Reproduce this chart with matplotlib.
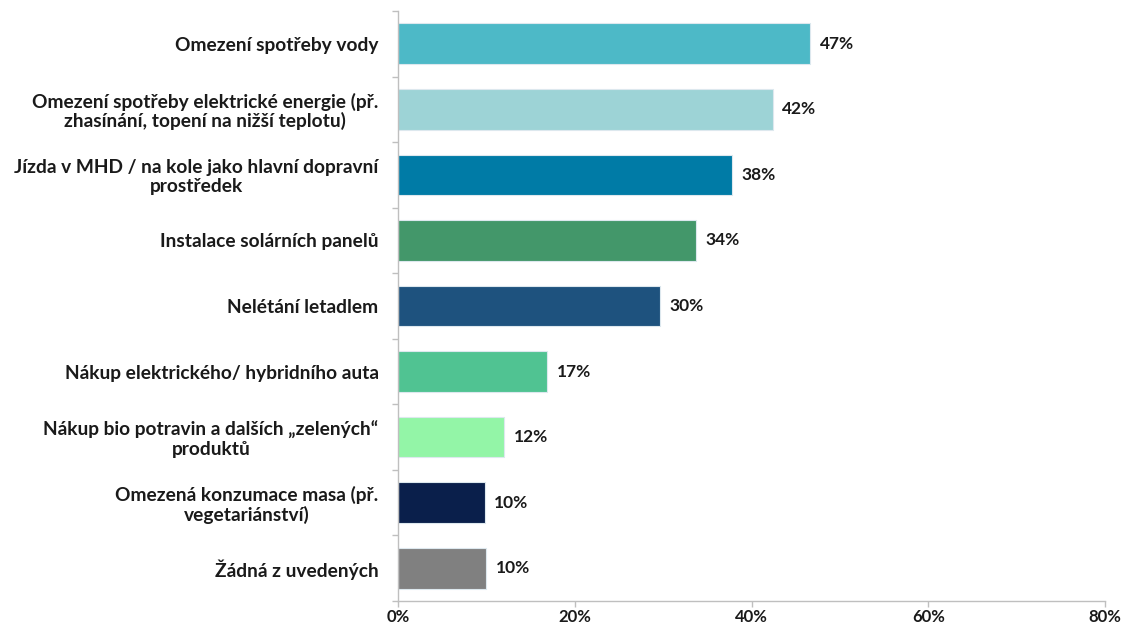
import matplotlib
matplotlib.use("Agg")
import matplotlib.pyplot as plt
from matplotlib.ticker import FixedLocator

categories = [
    "Omezení spotřeby vody",
    "Omezení spotřeby elektrické energie (př.\nzhasínání, topení na nižší teplotu)",
    "Jízda v MHD / na kole jako hlavní dopravní\nprostředek",
    "Instalace solárních panelů",
    "Nelétání letadlem",
    "Nákup elektrického/ hybridního auta",
    "Nákup bio potravin a dalších „zelených“\nproduktů",
    "Omezená konzumace masa (př.\nvegetariánství)",
    "Žádná z uvedených",
]
values = [46.6, 42.4, 37.8, 33.7, 29.6, 16.9, 12.0, 9.8, 10.0]
value_labels = ["47%", "42%", "38%", "34%", "30%", "17%", "12%", "10%", "10%"]
colors = ["#4DB9C7", "#9DD3D6", "#007BA6", "#43976A", "#1E527E",
          "#50C392", "#93F5A7", "#0A1F4B", "#808080"]
x_ticks = [0, 20, 40, 60, 80]
x_tick_labels = ["0%", "20%", "40%", "60%", "80%"]

plt.rcParams['font.family'] = ['Lato', 'DejaVu Sans']

fig = plt.figure(figsize=(11.21, 6.29), dpi=100)
W, H = 1121, 629
ax = fig.add_axes([398 / W, 1 - 601 / H, (1105 - 398) / W, (601 - 11) / H])

y = list(range(len(categories)))
ax.barh(y, values, height=0.62, color=colors, edgecolor="#DDE8EE", linewidth=0.8)

for yi, v, lab in zip(y, values, value_labels):
    ax.text(v + 1.1, yi, lab, va="center", ha="left", fontsize=12.5,
            fontweight="bold", color="#1a1a1a")

ax.set_xlim(0, 80)
ax.set_ylim(len(categories) - 0.5, -0.5)

ax.set_yticks(y)
ax.set_yticklabels(categories, fontsize=13.8, fontweight="bold", color="#1a1a1a",
                   ha="right", multialignment="center", linespacing=1.1)
ax.tick_params(axis="y", which="major", length=0, pad=14)
ax.yaxis.set_minor_locator(FixedLocator([i - 0.5 for i in range(len(categories) + 1)]))
ax.tick_params(axis="y", which="minor", length=4, color="#BFBFBF", width=1)

ax.set_xticks(x_ticks)
ax.set_xticklabels(x_tick_labels, fontsize=12, fontweight="bold", color="#1a1a1a")
ax.tick_params(axis="x", length=4, color="#BFBFBF", width=1, pad=2)

for s in ["top", "right"]:
    ax.spines[s].set_visible(False)
for s in ["left", "bottom"]:
    ax.spines[s].set_color("#BFBFBF")
    ax.spines[s].set_linewidth(1)

fig.savefig("out.png", dpi=100, facecolor="white")
